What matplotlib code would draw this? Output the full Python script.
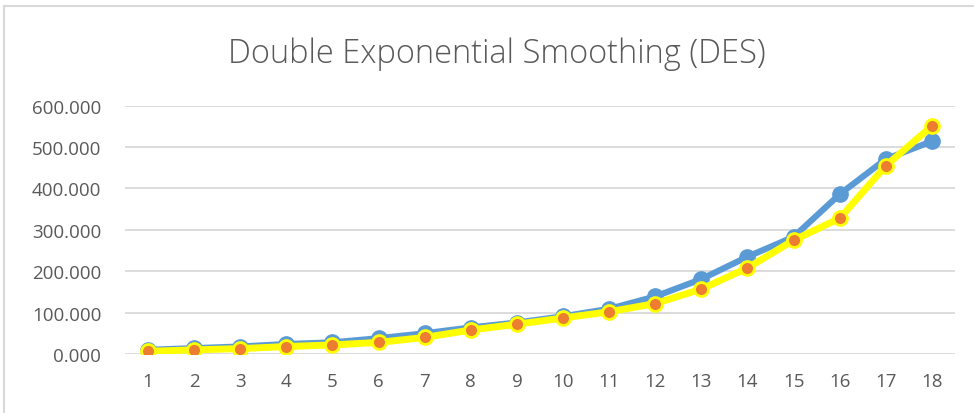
import matplotlib
matplotlib.use('Agg')
import matplotlib.pyplot as plt
from matplotlib.lines import Line2D

# data
periods = list(range(1, 19))
actual = [10, 14, 18, 24, 28, 38, 50, 64, 76, 91, 109, 139, 181, 235, 283, 386, 471, 514]
forecast = [6.5, 10, 13, 18, 22, 28, 40, 58, 72, 87, 102, 122, 157, 208, 275, 328, 455, 551]
y_ticks = [0, 100, 200, 300, 400, 500, 600]

plt.rcParams['font.family'] = ['Open Sans', 'DejaVu Sans']
grey = '#595959'

fig = plt.figure(figsize=(9.74, 4.14), dpi=100)
ax = fig.add_axes([0.1283, 0.1425, 0.8522, 0.5998])

# blue actual series
ax.plot(periods, actual, color='#5b9bd5', lw=4.5, marker='o', ms=11,
        mfc='#5b9bd5', mec='#5b9bd5', zorder=3, solid_capstyle='round')
# yellow forecast series with orange markers
ax.plot(periods, forecast, color='#ffff00', lw=5, marker='o', ms=10,
        mfc='#ed7d31', mec='#ffff00', mew=2, zorder=4, solid_capstyle='round')

ax.set_xlim(0.5, 18.5)
ax.set_ylim(0, 600)
ax.set_xticks(periods)
ax.set_yticks(y_ticks)
ax.set_yticklabels(['%.3f' % v for v in y_ticks])
ax.tick_params(axis='both', length=0, labelsize=13.5, labelcolor=grey)
ax.tick_params(axis='x', pad=13)
ax.tick_params(axis='y', pad=17)
ax.grid(axis='y', color='#d9d9d9', lw=1.3)
ax.set_axisbelow(True)
for s in ax.spines.values():
    s.set_visible(False)

fig.text(0.51, 0.868, 'Double Exponential Smoothing (DES)', ha='center', va='center',
         fontsize=23.5, color=grey, fontweight='light')

# chart-area border (top and left visible)
fig.add_artist(Line2D([4 / 974, 4 / 974], [0, 1 - 7 / 414], transform=fig.transFigure,
                      color='#d9d9d9', lw=1.5))
fig.add_artist(Line2D([4 / 974, 1], [1 - 7 / 414, 1 - 7 / 414], transform=fig.transFigure,
                      color='#d9d9d9', lw=1.5))

plt.savefig('out.png', dpi=100)
